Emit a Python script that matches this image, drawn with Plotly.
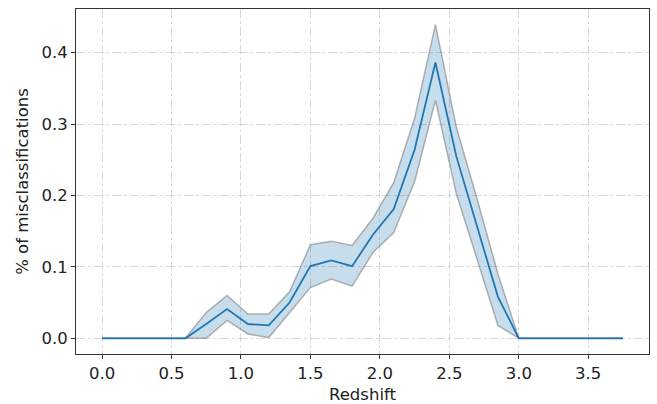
import plotly.graph_objects as go

redshift = [0.0, 0.15, 0.3, 0.45, 0.6, 0.75, 0.9, 1.05, 1.2, 1.35, 1.5, 1.65, 1.8,
            1.95, 2.1, 2.25, 2.4, 2.55, 2.7, 2.85, 3.0, 3.15, 3.3, 3.45, 3.6, 3.75]
mean_vals = [0.0, 0.0, 0.0, 0.0, 0.0, 0.020, 0.041, 0.020, 0.018, 0.050, 0.101, 0.109, 0.101,
             0.145, 0.181, 0.264, 0.386, 0.255, 0.155, 0.058, 0.0, 0.0, 0.0, 0.0, 0.0, 0.0]
upper_vals = [0.0, 0.0, 0.0, 0.0, 0.0, 0.036, 0.060, 0.034, 0.034, 0.065, 0.131, 0.136, 0.130,
              0.168, 0.218, 0.308, 0.439, 0.296, 0.195, 0.090, 0.0, 0.0, 0.0, 0.0, 0.0, 0.0]
lower_vals = [0.0, 0.0, 0.0, 0.0, 0.0, 0.0, 0.025, 0.006, 0.001, 0.036, 0.071, 0.083, 0.073,
              0.120, 0.148, 0.219, 0.333, 0.203, 0.110, 0.018, 0.0, 0.0, 0.0, 0.0, 0.0, 0.0]

x_ticks = [0.0, 0.5, 1.0, 1.5, 2.0, 2.5, 3.0, 3.5]
y_ticks = [0.0, 0.1, 0.2, 0.3, 0.4]

FONT = dict(family="DejaVu Sans", size=16.5, color="#222222")

edge = dict(color="rgba(120,120,120,0.55)", width=1.5)
fig = go.Figure()
fig.add_trace(go.Scatter(x=redshift, y=upper_vals, mode="lines", line=edge,
                         showlegend=False, hoverinfo="skip"))
fig.add_trace(go.Scatter(x=redshift, y=lower_vals, mode="lines", line=edge,
                         fill="tonexty", fillcolor="rgba(31,119,180,0.25)",
                         showlegend=False, hoverinfo="skip"))
fig.add_trace(go.Scatter(x=redshift, y=mean_vals, mode="lines",
                         line=dict(color="#1f77b4", width=1.8), showlegend=False))

axis_common = dict(
    showline=True, linecolor="#333333", linewidth=1, mirror=True,
    ticks="outside", ticklen=4, tickwidth=1, tickcolor="#333333",
    showgrid=True, gridcolor="rgba(190,190,190,0.6)", gridwidth=1, griddash="dashdot",
    zeroline=False, automargin=False,
    tickfont=FONT,
)
fig.update_xaxes(range=[-0.1875, 3.9375], tickvals=x_ticks,
                 ticktext=[f"{v:.1f}" for v in x_ticks],
                 title=dict(text="Redshift", font=FONT, standoff=6),
                 **axis_common)
fig.update_yaxes(range=[-0.022, 0.461], tickvals=y_ticks,
                 ticktext=[f"{v:.1f}" for v in y_ticks],
                 title=dict(text="% of misclassifications", font=FONT, standoff=8),
                 **axis_common)
fig.update_layout(width=657, height=404, margin=dict(l=76, r=8, t=9, b=50),
                  plot_bgcolor="white", paper_bgcolor="white")
fig.write_html("out.html", config={"displayModeBar": False},
               post_script="document.body.style.margin='0';")
